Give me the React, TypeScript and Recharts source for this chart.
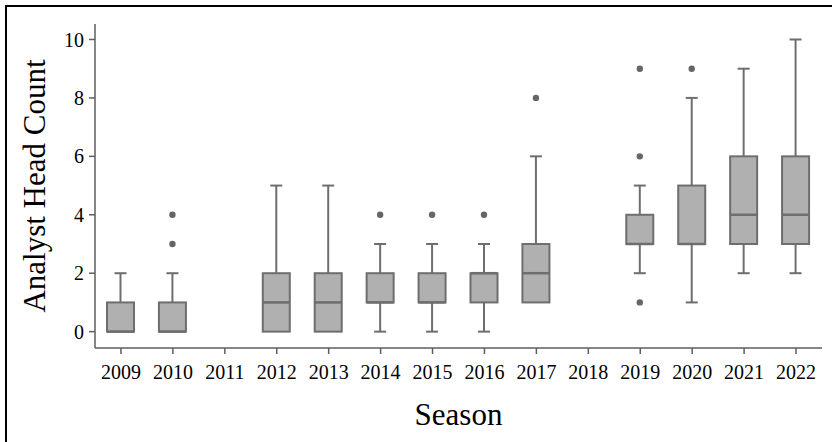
import { ComposedChart, Bar, XAxis, YAxis, Label } from "recharts";

const seasons = ["2009", "2010", "2011", "2012", "2013", "2014", "2015", "2016", "2017", "2018", "2019", "2020", "2021", "2022"];
const mins = [0, 0, null, 0, 0, 0, 0, 0, 1, null, 2, 1, 2, 2];
const q1s = [0, 0, null, 0, 0, 1, 1, 1, 1, null, 3, 3, 3, 3];
const medians = [0, 0, null, 1, 1, 1, 1, 2, 2, null, 3, 3, 4, 4];
const q3s = [1, 1, null, 2, 2, 2, 2, 2, 3, null, 4, 5, 6, 6];
const maxs = [2, 2, null, 5, 5, 3, 3, 3, 6, null, 5, 8, 9, 10];
const outliers = [[], [3, 4], [], [], [], [4], [4], [4], [8], [], [1, 6, 9], [9], [], []];
const yTicks = [0, 2, 4, 6, 8, 10];

const rows = seasons.map((season, i) => ({
  season,
  min: mins[i],
  q1: q1s[i],
  median: medians[i],
  q3: q3s[i],
  max: maxs[i],
  outliers: outliers[i],
}));

const font = "'Liberation Serif', 'Times New Roman', serif";
const boxFill = "#b0b0b0";
const lineColor = "#6e6e6e";

// whisker range drives the bar; the rest is placed relative to it
const boxRange = (d: any) => (d.max == null ? null : [d.min, d.max]);

const BoxShape = (props: any) => {
  const { x, y, width, height, payload } = props;
  if (payload == null || payload.max == null || !height) return null;
  const unit = height / (payload.max - payload.min);
  const py = (v: number) => y + (payload.max - v) * unit;
  const cx = x + width / 2;
  const cap = 6;
  return (
    <g>
      {payload.max > payload.q3 && (
        <>
          <line x1={cx} x2={cx} y1={py(payload.q3)} y2={py(payload.max)} stroke={lineColor} strokeWidth={2} />
          <line x1={cx - cap} x2={cx + cap} y1={py(payload.max)} y2={py(payload.max)} stroke={lineColor} strokeWidth={2} />
        </>
      )}
      {payload.min < payload.q1 && (
        <>
          <line x1={cx} x2={cx} y1={py(payload.q1)} y2={py(payload.min)} stroke={lineColor} strokeWidth={2} />
          <line x1={cx - cap} x2={cx + cap} y1={py(payload.min)} y2={py(payload.min)} stroke={lineColor} strokeWidth={2} />
        </>
      )}
      <rect
        x={x}
        y={py(payload.q3)}
        width={width}
        height={py(payload.q1) - py(payload.q3)}
        fill={boxFill}
        stroke={lineColor}
        strokeWidth={2}
      />
      <line x1={x} x2={x + width} y1={py(payload.median)} y2={py(payload.median)} stroke={lineColor} strokeWidth={2.5} />
      {payload.outliers.map((o: number, k: number) => (
        <circle key={k} cx={cx} cy={py(o)} r={3.2} fill="#666" />
      ))}
    </g>
  );
};

export default function App() {
  return (
    <div style={{ position: "absolute", left: 0, top: 0, width: 832, height: 442, overflow: "hidden", background: "#fff" }}>
      <div
        style={{
          position: "absolute",
          left: 5,
          top: 5,
          width: 900,
          height: 500,
          borderLeft: "2.5px solid #000",
          borderTop: "2.5px solid #000",
        }}
      />
      <ComposedChart width={832} height={442} data={rows} margin={{ top: 24, right: 10, bottom: 0, left: 0 }}>
        <XAxis
          dataKey="season"
          type="category"
          height={94}
          interval={0}
          tickSize={6}
          tickMargin={11}
          stroke="#5e5e5e"
          strokeWidth={1.5}
          tick={{ fill: "#000", fontSize: 20, fontFamily: font }}
        >
          <Label value="Season" position="insideBottom" offset={17} style={{ fontSize: 31, fill: "#000", fontFamily: font }} />
        </XAxis>
        <YAxis
          type="number"
          domain={[-0.56, 10.53]}
          ticks={yTicks}
          width={95}
          tickSize={6}
          tickMargin={5}
          stroke="#5e5e5e"
          strokeWidth={1.5}
          tick={{ fill: "#000", fontSize: 20, fontFamily: font }}
        >
          <Label
            value="Analyst Head Count"
            angle={-90}
            position="insideLeft"
            offset={34}
            style={{ fontSize: 31, fill: "#000", fontFamily: font, textAnchor: "middle" }}
          />
        </YAxis>
        <Bar dataKey={boxRange} barSize={27} shape={<BoxShape />} isAnimationActive={false} />
      </ComposedChart>
    </div>
  );
}
